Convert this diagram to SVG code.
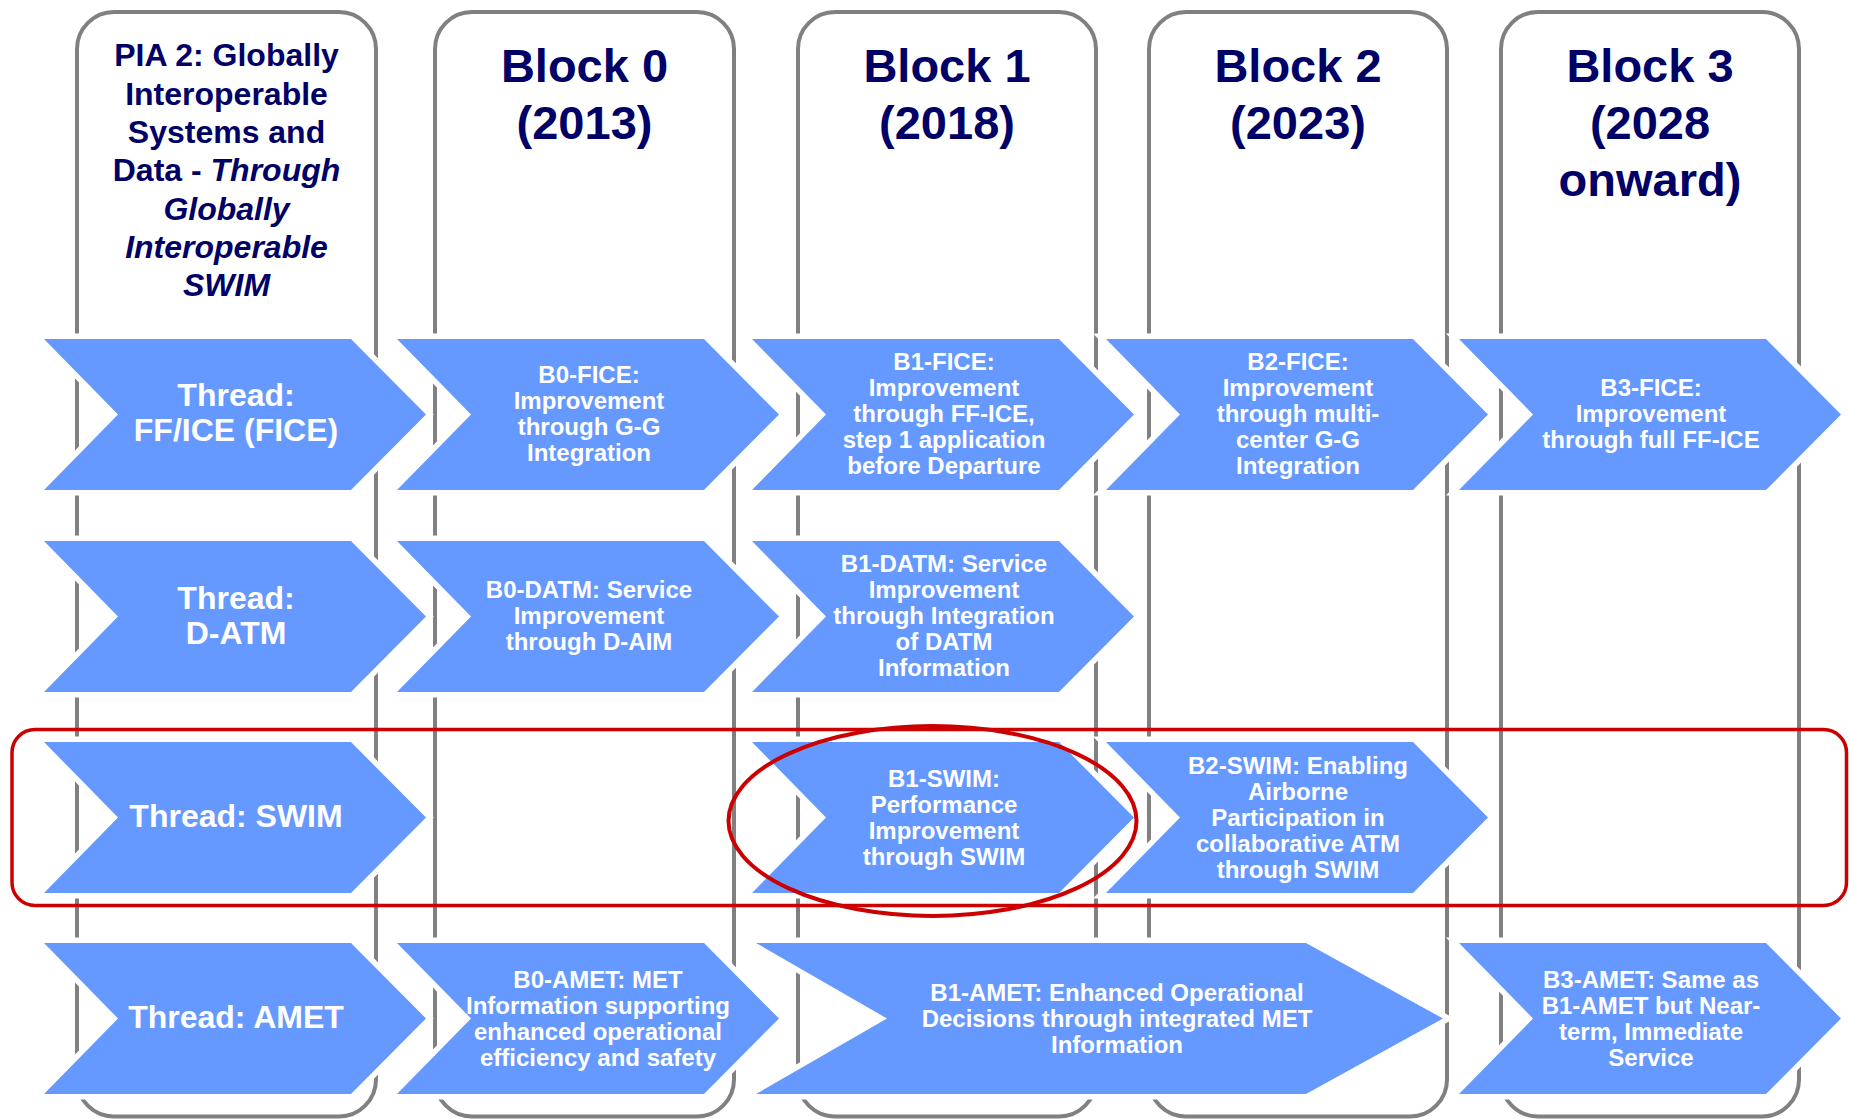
<svg xmlns="http://www.w3.org/2000/svg" xmlns:xlink="http://www.w3.org/1999/xlink" width="1849" height="1119" viewBox="0 0 1849 1119">
  <style>
    .col { fill: #FFFFFF; stroke: #808080; stroke-width: 4; }
    .head { font-family: "Liberation Sans", Arial, sans-serif; font-weight: bold; fill: #000066; text-anchor: middle; }
    .block { font-size: 47px; }
    .pia { font-size: 32px; }
    .it { font-style: italic; }
    .chev { fill: #6699FF; stroke: #FFFFFF; stroke-width: 11; paint-order: stroke; stroke-linejoin: miter; }
    .lbl { font-family: "Liberation Sans", Arial, sans-serif; font-weight: bold; fill: #FFFFFF; text-anchor: middle; font-size: 24px; }
    .thr { font-size: 32px; }
    .hl { fill: none; stroke: #CC0000; }
  </style>
  <defs>
    <!-- standard step chevron, 382 wide x 151 high -->
    <path id="chev" class="chev" d="M0,0 H307 L382,75.5 L307,151 H0 L74,75.5 Z"/>
  </defs>

  <rect width="1849" height="1119" fill="#FFFFFF"/>

  <!-- block columns -->
  <g id="col-pia2">
    <rect class="col" x="77" y="12" width="299" height="1104.5" rx="37"/>
    <text class="head pia"><tspan x="226.5" y="66">PIA 2: Globally</tspan><tspan x="226.5" y="104.5">Interoperable</tspan><tspan x="226.5" y="143">Systems and</tspan><tspan x="226.5" y="181">Data - <tspan class="it">Through</tspan></tspan><tspan x="226.5" y="219.5" class="it">Globally</tspan><tspan x="226.5" y="258" class="it">Interoperable</tspan><tspan x="226.5" y="296" class="it">SWIM</tspan></text>
  </g>
  <g id="col-block0">
    <rect class="col" x="435" y="12" width="299" height="1104.5" rx="37"/>
    <text class="head block"><tspan x="584.5" y="82">Block 0</tspan><tspan x="584.5" y="139">(2013)</tspan></text>
  </g>
  <g id="col-block1">
    <rect class="col" x="798" y="12" width="298" height="1104.5" rx="37"/>
    <text class="head block"><tspan x="947" y="82">Block 1</tspan><tspan x="947" y="139">(2018)</tspan></text>
  </g>
  <g id="col-block2">
    <rect class="col" x="1149" y="12" width="298" height="1104.5" rx="37"/>
    <text class="head block"><tspan x="1298" y="82">Block 2</tspan><tspan x="1298" y="139">(2023)</tspan></text>
  </g>
  <g id="col-block3">
    <rect class="col" x="1501" y="12" width="298" height="1104.5" rx="37"/>
    <text class="head block"><tspan x="1650" y="82">Block 3</tspan><tspan x="1650" y="139">(2028</tspan><tspan x="1650" y="195.5">onward)</tspan></text>
  </g>

  <!-- row 1: FF/ICE -->
  <g id="thread-fice">
    <use xlink:href="#chev" x="44" y="339"/>
    <text class="lbl thr"><tspan x="236" y="406">Thread:</tspan><tspan x="236" y="441">FF/ICE (FICE)</tspan></text>
  </g>
  <g id="b0-fice">
    <use xlink:href="#chev" x="397" y="339"/>
    <text class="lbl"><tspan x="589" y="383">B0-FICE:</tspan><tspan x="589" y="409">Improvement</tspan><tspan x="589" y="435">through G-G</tspan><tspan x="589" y="461">Integration</tspan></text>
  </g>
  <g id="b1-fice">
    <use xlink:href="#chev" x="752" y="339"/>
    <text class="lbl"><tspan x="944" y="370">B1-FICE:</tspan><tspan x="944" y="396">Improvement</tspan><tspan x="944" y="422">through FF-ICE,</tspan><tspan x="944" y="448">step 1 application</tspan><tspan x="944" y="474">before Departure</tspan></text>
  </g>
  <g id="b2-fice">
    <use xlink:href="#chev" x="1106" y="339"/>
    <text class="lbl"><tspan x="1298" y="370">B2-FICE:</tspan><tspan x="1298" y="396">Improvement</tspan><tspan x="1298" y="422">through multi-</tspan><tspan x="1298" y="448">center G-G</tspan><tspan x="1298" y="474">Integration</tspan></text>
  </g>
  <g id="b3-fice">
    <use xlink:href="#chev" x="1459" y="339"/>
    <text class="lbl"><tspan x="1651" y="396">B3-FICE:</tspan><tspan x="1651" y="422">Improvement</tspan><tspan x="1651" y="448">through full FF-ICE</tspan></text>
  </g>

  <!-- row 2: D-ATM -->
  <g id="thread-datm">
    <use xlink:href="#chev" x="44" y="541"/>
    <text class="lbl thr"><tspan x="236" y="609">Thread:</tspan><tspan x="236" y="644">D-ATM</tspan></text>
  </g>
  <g id="b0-datm">
    <use xlink:href="#chev" x="397" y="541"/>
    <text class="lbl"><tspan x="589" y="598">B0-DATM: Service</tspan><tspan x="589" y="624">Improvement</tspan><tspan x="589" y="650">through D-AIM</tspan></text>
  </g>
  <g id="b1-datm">
    <use xlink:href="#chev" x="752" y="541"/>
    <text class="lbl"><tspan x="944" y="572">B1-DATM: Service</tspan><tspan x="944" y="598">Improvement</tspan><tspan x="944" y="624">through Integration</tspan><tspan x="944" y="650">of DATM</tspan><tspan x="944" y="676">Information</tspan></text>
  </g>

  <!-- row 3: SWIM -->
  <g id="thread-swim">
    <use xlink:href="#chev" x="44" y="742"/>
    <text class="lbl thr" x="236" y="827">Thread: SWIM</text>
  </g>
  <g id="b1-swim">
    <use xlink:href="#chev" x="752" y="742"/>
    <text class="lbl"><tspan x="944" y="786.5">B1-SWIM:</tspan><tspan x="944" y="812.5">Performance</tspan><tspan x="944" y="838.5">Improvement</tspan><tspan x="944" y="864.5">through SWIM</tspan></text>
  </g>
  <g id="b2-swim">
    <use xlink:href="#chev" x="1106" y="742"/>
    <text class="lbl"><tspan x="1298" y="773.5">B2-SWIM: Enabling</tspan><tspan x="1298" y="799.5">Airborne</tspan><tspan x="1298" y="825.5">Participation in</tspan><tspan x="1298" y="851.5">collaborative ATM</tspan><tspan x="1298" y="877.5">through SWIM</tspan></text>
  </g>

  <!-- row 4: AMET -->
  <g id="thread-amet">
    <use xlink:href="#chev" x="44" y="943"/>
    <text class="lbl thr" x="236" y="1028">Thread: AMET</text>
  </g>
  <g id="b0-amet">
    <use xlink:href="#chev" x="397" y="943"/>
    <text class="lbl"><tspan x="598" y="987.5">B0-AMET: MET</tspan><tspan x="598" y="1013.5">Information supporting</tspan><tspan x="598" y="1039.5">enhanced operational</tspan><tspan x="598" y="1065.5">efficiency and safety</tspan></text>
  </g>
  <g id="b1-amet">
    <path class="chev" d="M756,943 H1306 L1443,1018.5 L1306,1094 H756 L887,1018.5 Z"/>
    <text class="lbl"><tspan x="1117" y="1000.5">B1-AMET: Enhanced Operational</tspan><tspan x="1117" y="1026.5">Decisions through integrated MET</tspan><tspan x="1117" y="1052.5">Information</tspan></text>
  </g>
  <g id="b3-amet">
    <use xlink:href="#chev" x="1459" y="943"/>
    <text class="lbl"><tspan x="1651" y="987.5">B3-AMET: Same as</tspan><tspan x="1651" y="1013.5">B1-AMET but Near-</tspan><tspan x="1651" y="1039.5">term, Immediate</tspan><tspan x="1651" y="1065.5">Service</tspan></text>
  </g>

  <!-- highlight marks (no connectors in this chart) -->
  <g id="connectors">
    <rect class="hl" x="12" y="729.5" width="1834.5" height="176" rx="23" stroke-width="3.5"/>
    <ellipse class="hl" cx="932.5" cy="821" rx="204" ry="95" stroke-width="4"/>
  </g>
</svg>
